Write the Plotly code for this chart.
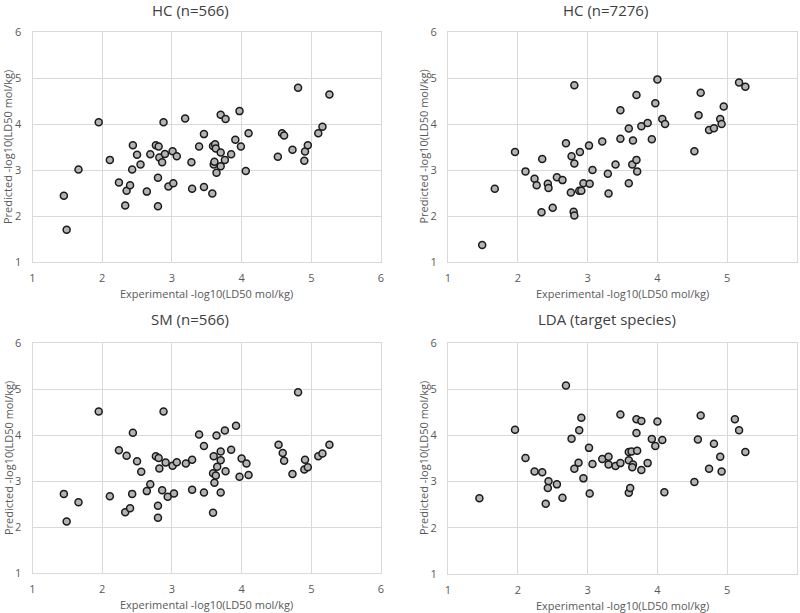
import plotly.graph_objects as go

# HC (n=566)
hc566_x = [1.45, 1.49, 1.66, 1.95, 2.11, 2.24, 2.33, 2.35, 2.40, 2.43, 2.44, 2.50, 2.55, 2.64, 2.69,
           2.77, 2.81, 2.80, 2.80, 2.82, 2.86, 2.88, 2.90, 2.95, 3.01, 3.02, 3.07, 3.19, 3.28, 3.29,
           3.39, 3.46, 3.46, 3.58, 3.59, 3.60, 3.62, 3.61, 3.63, 3.64, 3.70, 3.70, 3.70, 3.76, 3.77,
           3.85, 3.91, 3.97, 3.99, 4.06, 4.10, 4.52, 4.58, 4.61, 4.73, 4.81, 4.90, 4.91, 4.95, 5.10,
           5.16, 5.26]
hc566_y = [2.44, 1.70, 3.01, 4.04, 3.22, 2.73, 2.23, 2.55, 2.67, 3.01, 3.54, 3.33, 3.12, 2.53, 3.34,
           3.54, 3.51, 2.83, 2.21, 3.27, 3.17, 4.04, 3.35, 2.64, 3.41, 2.71, 3.30, 4.12, 3.17, 2.59,
           3.51, 3.78, 2.63, 2.49, 3.52, 3.12, 3.56, 3.18, 3.47, 2.94, 4.20, 3.38, 3.08, 3.22, 4.11,
           3.34, 3.66, 4.28, 3.51, 2.98, 3.80, 3.29, 3.80, 3.75, 3.44, 4.79, 3.20, 3.40, 3.54, 3.80,
           3.94, 4.64]

# HC (n=7276)
hc7276_x = [1.49, 1.67, 1.96, 2.11, 2.24, 2.27, 2.34, 2.50, 2.35, 2.43, 2.44, 2.56, 2.64, 2.69, 2.76,
            2.77, 2.80, 2.81, 2.81, 2.81, 2.88, 2.89, 2.91, 2.94, 3.02, 3.03, 3.07, 3.21, 3.29, 3.30,
            3.40, 3.47, 3.47, 3.59, 3.59, 3.64, 3.65, 3.70, 3.70, 3.71, 3.77, 3.86, 3.92, 3.97, 4.00,
            4.07, 4.11, 4.53, 4.59, 4.62, 4.74, 4.81, 4.90, 4.92, 4.95, 5.17, 5.26]
hc7276_y = [1.37, 2.59, 3.39, 2.97, 2.81, 2.67, 2.08, 2.18, 3.24, 2.70, 2.61, 2.84, 2.78, 3.58, 2.51,
            3.30, 2.09, 2.01, 4.84, 3.14, 2.55, 3.39, 2.55, 2.71, 3.53, 2.70, 3.00, 3.62, 2.92, 2.49,
            3.12, 4.30, 3.68, 3.90, 2.71, 3.12, 3.64, 4.63, 3.22, 2.97, 3.95, 4.02, 3.67, 4.45, 4.97,
            4.11, 4.00, 3.41, 4.19, 4.68, 3.87, 3.91, 4.11, 4.00, 4.38, 4.90, 4.81]

# SM (n=566)
sm_x = [1.45, 1.49, 1.66, 1.95, 2.11, 2.24, 2.33, 2.35, 2.40, 2.43, 2.44, 2.50, 2.56, 2.64, 2.69,
        2.77, 2.81, 2.80, 2.80, 2.82, 2.86, 2.88, 2.91, 2.94, 3.01, 3.03, 3.07, 3.20, 3.29, 3.29,
        3.39, 3.46, 3.46, 3.59, 3.60, 3.59, 3.61, 3.63, 3.64, 3.65, 3.70, 3.70, 3.70, 3.76, 3.77,
        3.85, 3.92, 3.97, 4.00, 4.07, 4.10, 4.53, 4.59, 4.61, 4.73, 4.81, 4.90, 4.91, 4.95, 5.10,
        5.16, 5.26]
sm_y = [2.72, 2.12, 2.54, 4.51, 2.67, 3.67, 2.32, 3.55, 2.41, 2.72, 4.05, 3.43, 3.20, 2.78, 2.93,
        3.54, 3.50, 2.46, 2.20, 3.27, 2.80, 4.51, 3.40, 2.66, 3.33, 2.73, 3.41, 3.38, 3.46, 2.81,
        4.01, 3.76, 2.75, 2.31, 3.54, 3.17, 2.96, 3.12, 3.99, 3.31, 3.64, 3.45, 2.75, 4.10, 3.21,
        3.68, 4.20, 3.09, 3.49, 3.38, 3.13, 3.79, 3.61, 3.44, 3.15, 4.93, 3.25, 3.46, 3.30, 3.54,
        3.60, 3.79]

# LDA (target species)
lda_x = [1.45, 1.96, 2.11, 2.24, 2.35, 2.40, 2.44, 2.43, 2.56, 2.64, 2.69, 2.77, 2.81, 2.87, 2.88,
         2.91, 2.94, 3.02, 3.03, 3.07, 3.21, 3.30, 3.30, 3.40, 3.47, 3.47, 3.59, 3.59, 3.59, 3.61,
         3.63, 3.65, 3.64, 3.70, 3.70, 3.71, 3.77, 3.77, 3.86, 3.92, 3.97, 4.00, 4.07, 4.10, 4.53,
         4.58, 4.62, 4.74, 4.81, 4.90, 4.92, 5.11, 5.17, 5.26]
lda_y = [2.64, 4.12, 3.51, 3.22, 3.20, 2.52, 3.01, 2.86, 2.94, 2.65, 5.08, 3.93, 3.28, 3.41, 4.11,
         4.38, 3.07, 3.73, 2.74, 3.38, 3.49, 3.54, 3.37, 3.34, 3.40, 4.45, 3.64, 3.46, 2.76, 2.86,
         3.65, 3.37, 3.31, 4.05, 4.35, 3.67, 4.31, 3.25, 3.40, 3.92, 3.77, 4.30, 3.90, 2.77, 2.99,
         3.91, 4.43, 3.28, 3.82, 3.54, 3.22, 4.35, 4.11, 3.64]

titles = ["HC (n=566)", "HC (n=7276)", "SM (n=566)", "LDA (target species)"]
tick_vals = [1, 2, 3, 4, 5, 6]
x_label = "Experimental -log10(LD50 mol/kg)"
y_label = "Predicted -log10(LD50 mol/kg)"

panels = [(hc566_x, hc566_y), (hc7276_x, hc7276_y), (sm_x, sm_y), (lda_x, lda_y)]

W, H = 800, 613
# plot-area boxes in pixels (left, right, top, bottom)
boxes = [(32.5, 381, 32, 262), (448, 797, 32, 262), (32.5, 381, 343, 573), (448, 797, 343, 574)]
title_px = [(190, 10), (605, 10), (190, 319), (607, 319)]

FONT = "Open Sans, Liberation Sans, sans-serif"
GRID = "#d9d9d9"
TXT = "#595959"

fig = go.Figure()
annotations = []
for i, (xs, ys) in enumerate(panels):
    n = "" if i == 0 else str(i + 1)
    l, r, t, b = boxes[i]
    xdom = [l / W, r / W]
    ydom = [1 - b / H, 1 - t / H]
    fig.add_trace(go.Scatter(
        x=xs, y=ys, mode="markers", xaxis="x" + n, yaxis="y" + n, showlegend=False,
        marker=dict(size=7, color="#b3b3b3", line=dict(color="#1a1a1a", width=1.5)),
    ))
    axis_common = dict(range=[1, 6], tickvals=tick_vals, showgrid=True, gridcolor=GRID, gridwidth=1,
                       showline=True, mirror=True, linecolor=GRID, linewidth=1, zeroline=False,
                       ticks="", tickfont=dict(family=FONT, size=11, color=TXT))
    fig.layout["xaxis" + n] = dict(axis_common, domain=xdom, anchor="y" + n, ticklabelstandoff=6)
    fig.layout["yaxis" + n] = dict(axis_common, domain=ydom, anchor="x" + n, ticklabelstandoff=8)

    tx, ty = title_px[i]
    annotations.append(dict(text=titles[i], x=tx / W, y=1 - ty / H, xref="paper", yref="paper",
                            showarrow=False, xanchor="center", yanchor="middle",
                            font=dict(family=FONT, size=15, color="#404040")))
    annotations.append(dict(text=x_label, x=(l + r) / 2 / W, y=1 - (b + 31) / H, xref="paper", yref="paper",
                            showarrow=False, xanchor="center", yanchor="middle",
                            font=dict(family=FONT, size=11, color=TXT)))
    annotations.append(dict(text=y_label, x=(l - 24.5) / W, y=1 - (t + b) / 2 / H,
                            xref="paper", yref="paper", textangle=-90, showarrow=False,
                            xanchor="center", yanchor="middle",
                            font=dict(family=FONT, size=11, color=TXT)))

fig.update_layout(width=W, height=H, margin=dict(l=0, r=0, t=0, b=0, autoexpand=False),
                  plot_bgcolor="white", paper_bgcolor="white", annotations=annotations,
                  hovermode=False)

# the page body has a default 8px margin; drop it so the figure sits at the window corner
fig.write_html("out.html", config={"displayModeBar": False},
               post_script="document.body.style.margin='0';document.body.style.overflow='hidden';")
